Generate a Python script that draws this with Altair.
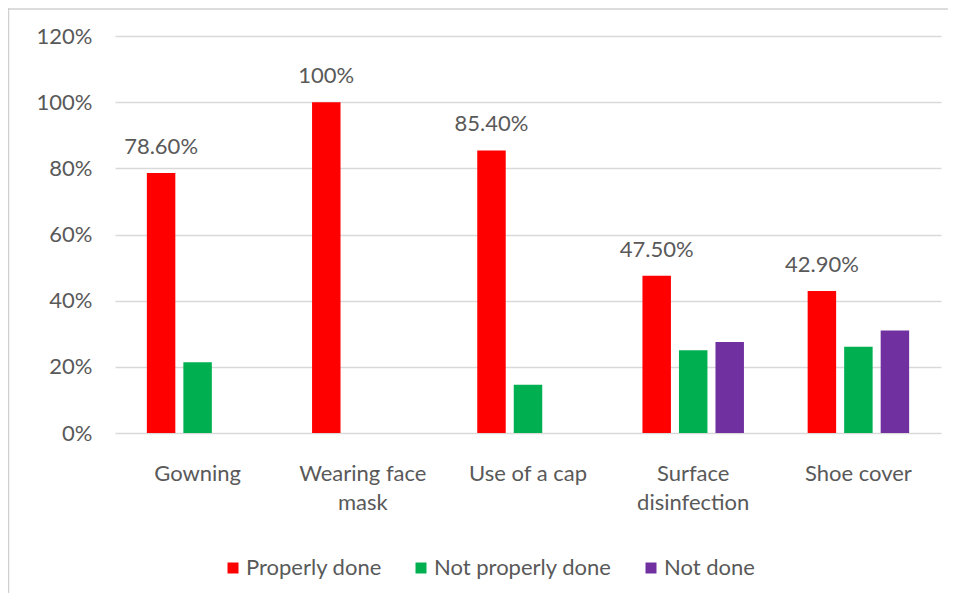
import altair as alt
import pandas as pd

categories = ["Gowning", "Wearing face mask", "Use of a cap", "Surface disinfection", "Shoe cover"]
series = ["Properly done", "Not properly done", "Not done"]
properly_done = [0.786, 1.000, 0.854, 0.475, 0.429]
not_properly_done = [0.214, None, 0.146, 0.250, 0.261]
not_done = [None, None, None, 0.275, 0.310]
properly_labels = ["78.60%", "100%", "85.40%", "47.50%", "42.90%"]
colors = ["#ff0000", "#00b050", "#7030a0"]

rows = []
for i, c in enumerate(categories):
    for s, vals in zip(series, [properly_done, not_properly_done, not_done]):
        v = vals[i]
        if v is None:
            continue
        rows.append({
            "category": c,
            "series": s,
            "value": v,
            "label": properly_labels[i] if s == "Properly done" else "",
        })
df = pd.DataFrame(rows)

FONT = "Lato"
TXT = "#595959"
GRID = "#d9d9d9"
FS = 22

x_enc = alt.X(
    "category:N",
    sort=categories,
    scale=alt.Scale(paddingInner=0.337, paddingOuter=0.1685),
    axis=alt.Axis(
        title=None,
        labelAngle=0,
        domain=False,
        ticks=False,
        labelPadding=30,
        labelFontSize=FS,
        labelFont=FONT,
        labelColor=TXT,
        labelLineHeight=29,
        labelExpr="datum.value == 'Wearing face mask' ? ['Wearing face', 'mask'] : datum.value == 'Surface disinfection' ? ['Surface', 'disinfection'] : datum.value",
    ),
)
xoff_enc = alt.XOffset(
    "series:N",
    sort=series,
    scale=alt.Scale(paddingInner=0.22, paddingOuter=0.11),
)
y_enc = alt.Y(
    "value:Q",
    scale=alt.Scale(domain=[0, 1.2], nice=False),
    axis=alt.Axis(
        title=None,
        values=[0, 0.2, 0.4, 0.6, 0.8, 1.0, 1.2],
        format=".0%",
        domain=False,
        ticks=False,
        grid=True,
        gridColor=GRID,
        gridWidth=1.3,
        labelPadding=23,
        labelFontSize=FS,
        labelFont=FONT,
        labelColor=TXT,
    ),
)

base = alt.Chart(df)

bars = base.mark_bar().encode(
    x=x_enc,
    xOffset=xoff_enc,
    y=y_enc,
    color=alt.Color(
        "series:N",
        sort=series,
        scale=alt.Scale(domain=series, range=colors),
        legend=alt.Legend(
            title=None,
            orient="none",
            direction="horizontal",
            legendX=107,
            legendY=521,
            symbolType="square",
            symbolSize=121,
            symbolStrokeWidth=0,
            labelFontSize=FS,
            labelFont=FONT,
            labelColor=TXT,
            labelOffset=2,
            columnPadding=28,
            padding=0,
            labelLimit=400,
        ),
    ),
)

texts = base.mark_text(
    baseline="alphabetic", dy=-19, fontSize=FS, font=FONT, color=TXT
).encode(
    x=alt.X("category:N", sort=categories),
    xOffset=alt.XOffset("series:N", sort=series),
    y=alt.Y("value:Q"),
    text="label:N",
)

border_data = alt.Data(values=[{"k": 1}])
border_top = alt.Chart(border_data).mark_rule(color="#d0d0d0", strokeWidth=1.5).encode(
    x=alt.value(-107), x2=alt.value(900), y=alt.value(-27)
)
border_left = alt.Chart(border_data).mark_rule(color="#d0d0d0", strokeWidth=1.5).encode(
    x=alt.value(-106.5), y=alt.value(-28), y2=alt.value(600)
)

chart = alt.layer(bars, texts, border_top, border_left).properties(
    width=826,
    height=397,
    autosize=alt.AutoSizeParams(type="none"),
    padding={"left": 107, "top": 28, "right": 7, "bottom": 160},
).configure_view(stroke=None)

chart.save("out.html", embed_options={"renderer": "svg", "actions": False})
